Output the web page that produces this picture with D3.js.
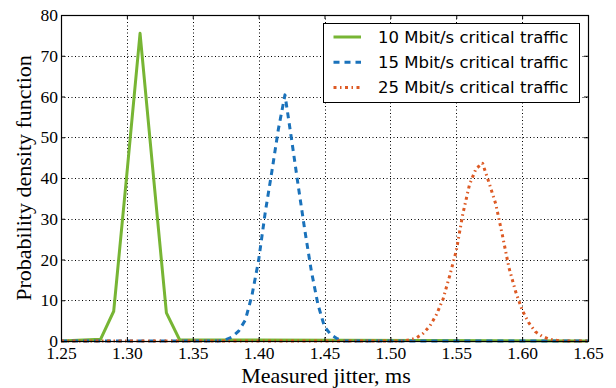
<!DOCTYPE html>
<html>
<head>
<meta charset="utf-8">
<script src="https://cdn.jsdelivr.net/npm/d3@7"></script>
<style>
  body { margin: 0; background: #fff; }
  svg { display: block; }
  .tick text { font-family: 'Liberation Serif', 'Times New Roman', serif; font-size: 17.5px; }
</style>
</head>
<body>
<div id="chart"></div>
<script>
// values
var greenX = [1.25, 1.28, 1.29, 1.30, 1.31, 1.32, 1.33, 1.34, 1.65];
var greenY = [0, 0.4, 7.3, 41, 75.5, 41, 6.9, 0.3, 0];

var blueX = [1.25, 1.37, 1.375, 1.38, 1.385, 1.39, 1.395, 1.40, 1.405, 1.41, 1.415, 1.42,
             1.425, 1.43, 1.435, 1.44, 1.445, 1.45, 1.455, 1.46, 1.465, 1.65];
var blueY = [0, 0, 0.3, 1.0, 2.5, 5.2, 11.3, 19.8, 31.5, 41.5, 52, 60.4,
             49.5, 38.2, 27.3, 17.2, 9, 3.5, 1.5, 0.5, 0, 0];

var orangeX = [1.25, 1.51, 1.515, 1.52, 1.525, 1.53, 1.535, 1.54, 1.545, 1.55, 1.555, 1.56, 1.565,
               1.57, 1.575, 1.58, 1.585, 1.59, 1.595, 1.60, 1.605, 1.61, 1.615, 1.62, 1.625, 1.63, 1.65];
var orangeY = [0, 0, 0.3, 0.8, 1.9, 3.7, 6.5, 10.3, 16, 22.1, 31.2, 38.3, 42.3,
               43.6, 38.7, 33.6, 26, 18, 12.2, 7.6, 4.5, 2.3, 1.2, 0.5, 0.2, 0, 0];

var seriesNames = ["10 Mbit/s critical traffic", "15 Mbit/s critical traffic", "25 Mbit/s critical traffic"];

var xTicks = [1.25, 1.30, 1.35, 1.40, 1.45, 1.50, 1.55, 1.60, 1.65];
var yTicks = [0, 10, 20, 30, 40, 50, 60, 70, 80];

//set the dimensions and margins of the graph
var margin = {top: 15, right: 28, bottom: 47, left: 61},
    width = 616 - margin.left - margin.right,
    height = 388 - margin.top - margin.bottom;

var svg = d3.select("#chart")
  .append("svg")
    .attr("width", 616)
    .attr("height", 388)
  .append("g")
    .attr("transform", "translate(" + margin.left + "," + margin.top + ")");

var x = d3.scaleLinear().domain([1.25, 1.65]).range([0, width]);
var y = d3.scaleLinear().domain([0, 80]).range([height, 0]);

// dotted grid
svg.append("g").selectAll("line")
  .data(xTicks.slice(1, -1)).enter().append("line")
    .attr("x1", function(d) { return Math.round(x(d)) + 0.5; })
    .attr("x2", function(d) { return Math.round(x(d)) + 0.5; })
    .attr("y1", 0).attr("y2", height)
    .style("stroke", "#000").style("stroke-width", 1)
    .style("stroke-dasharray", "1,2.5");
svg.append("g").selectAll("line")
  .data(yTicks.slice(1, -1)).enter().append("line")
    .attr("y1", function(d) { return Math.round(y(d)) + 0.5; })
    .attr("y2", function(d) { return Math.round(y(d)) + 0.5; })
    .attr("x1", 0).attr("x2", width)
    .style("stroke", "#000").style("stroke-width", 1)
    .style("stroke-dasharray", "1,2.5");

// lines
var line = d3.line()
  .x(function(d) { return x(d[0]); })
  .y(function(d) { return y(d[1]); });

var series = [
  {xs: greenX, ys: greenY, color: "#77b534", dash: null},
  {xs: blueX, ys: blueY, color: "#1a72bb", dash: "6,5"},
  {xs: orangeX, ys: orangeY, color: "#dd5a24", dash: "3,3.5,1.5,3.5"}
];

series.forEach(function(s) {
  var pts = s.xs.map(function(v, i) { return [v, s.ys[i]]; });
  svg.append("path")
    .datum(pts)
    .attr("d", line)
    .attr("fill", "none")
    .attr("stroke", s.color)
    .attr("stroke-width", 3)
    .attr("stroke-dasharray", s.dash)
    .attr("stroke-linejoin", "round");
});

// axes (ticks pointing inward on all sides)
var tickFont = "'Liberation Serif', 'Times New Roman', serif";

var xAxis = svg.append("g")
  .attr("transform", "translate(0," + height + ")")
  .call(d3.axisBottom(x).tickValues(xTicks).tickFormat(d3.format(".2f")).tickSize(-4).tickPadding(5.5));
var yAxis = svg.append("g")
  .call(d3.axisLeft(y).tickValues(yTicks).tickFormat(d3.format("d")).tickSize(-4).tickPadding(3));
svg.append("g")
  .call(d3.axisTop(x).tickValues(xTicks).tickFormat("").tickSize(-4));
svg.append("g")
  .attr("transform", "translate(" + width + ",0)")
  .call(d3.axisRight(y).tickValues(yTicks).tickFormat("").tickSize(-4));

[xAxis, yAxis].forEach(function(a) {
  a.attr("font-family", tickFont).attr("font-size", 17.5);
  a.selectAll("text")
    .attr("font-family", tickFont)
    .attr("font-size", 17.5)
    .attr("fill", "#000");
});
svg.selectAll(".domain").remove();
svg.selectAll(".tick line").attr("stroke", "#000");

// frame
svg.append("rect")
  .attr("x", 0.5).attr("y", 0.5)
  .attr("width", width).attr("height", height)
  .attr("fill", "none").attr("stroke", "#000").attr("stroke-width", 1.2);

// axis labels
svg.append("text")
  .attr("x", 326 - margin.left)
  .attr("y", 383 - margin.top)
  .attr("text-anchor", "middle")
  .attr("font-family", tickFont)
  .attr("font-size", 22)
  .text("Measured jitter, ms");

svg.append("text")
  .attr("transform", "translate(" + (31 - margin.left) + "," + (178 - margin.top) + ") rotate(-90)")
  .attr("text-anchor", "middle")
  .attr("font-family", tickFont)
  .attr("font-size", 22)
  .text("Probability density function");

// legend
var legend = svg.append("g")
  .attr("transform", "translate(" + (323.5 - margin.left) + "," + (23.5 - margin.top) + ")");
legend.append("rect")
  .attr("width", 256).attr("height", 79)
  .attr("fill", "#fff").attr("stroke", "#000").attr("stroke-width", 1);

var rows = legend.selectAll("g")
  .data(series).enter().append("g")
    .attr("transform", function(d, i) { return "translate(0," + (13.5 + i * 25.2) + ")"; });
rows.append("line")
  .attr("x1", 10).attr("x2", 37.5).attr("y1", 0).attr("y2", 0)
  .attr("stroke", function(d) { return d.color; })
  .attr("stroke-width", 3)
  .attr("stroke-dasharray", function(d) { return d.dash; });
rows.append("text")
  .attr("x", 54.5).attr("y", 0).attr("dy", "0.36em")
  .attr("font-family", "'DejaVu Sans', sans-serif")
  .attr("font-size", 16.5)
  .text(function(d, i) { return seriesNames[i]; });
</script>
</body>
</html>
